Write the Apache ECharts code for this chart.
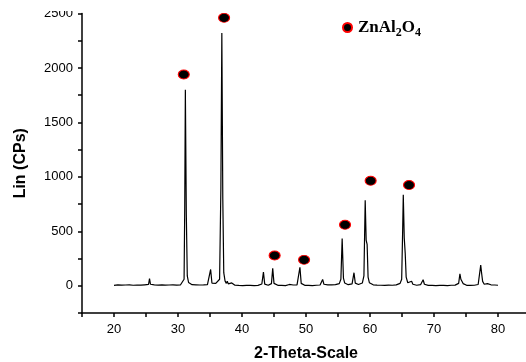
<!DOCTYPE html>
<html><head><meta charset="utf-8">
<script src="https://cdn.jsdelivr.net/npm/echarts@6/dist/echarts.min.js"></script>
<style>html,body{margin:0;padding:0;background:#fff}#c{width:526px;height:362px}</style>
</head><body><div id="c"></div>
<script>
var twoTheta = [20.0,20.3,20.6,20.9,21.2,21.5,21.8,22.1,22.4,22.7,23.0,23.3,23.6,23.9,24.2,24.5,24.8,25.1,25.4,25.55,25.7,26.0,26.3,26.6,26.9,27.2,27.5,27.8,28.0,28.3,28.6,28.9,29.2,29.5,29.8,30.1,30.4,30.7,30.95,31.05,31.15,31.3,31.45,31.65,31.9,32.2,32.5,32.8,33.1,33.4,33.7,34.0,34.3,34.6,34.9,35.1,35.3,35.6,35.9,36.2,36.5,36.7,36.85,37.0,37.15,37.35,37.55,37.7,37.85,38.1,38.4,38.6,38.9,39.2,39.5,39.8,40.1,40.4,40.7,41.0,41.3,41.6,41.9,42.2,42.5,42.8,43.1,43.35,43.55,43.8,44.1,44.4,44.6,44.8,45.0,45.3,45.6,45.9,46.2,46.5,46.8,47.1,47.4,47.7,48.0,48.3,48.6,48.85,49.05,49.25,49.5,49.8,50.1,50.4,50.7,51.0,51.3,51.6,51.9,52.2,52.45,52.6,52.8,53.1,53.4,53.7,54.0,54.3,54.6,54.9,55.2,55.45,55.65,55.85,56.05,56.3,56.6,56.9,57.2,57.5,57.7,57.95,58.2,58.5,58.8,59.05,59.25,59.4,59.55,59.7,59.9,60.2,60.5,60.8,61.1,61.4,61.7,62.0,62.3,62.6,62.9,63.2,63.5,63.8,64.1,64.4,64.7,64.95,65.1,65.2,65.35,65.5,65.65,65.9,66.2,66.5,66.7,67.0,67.3,67.6,67.9,68.15,68.3,68.5,68.8,69.1,69.4,69.7,70.0,70.3,70.6,70.9,71.2,71.5,71.8,72.1,72.4,72.7,73.0,73.3,73.6,73.85,74.05,74.2,74.35,74.55,74.8,75.1,75.4,75.7,76.0,76.3,76.6,76.9,77.1,77.3,77.45,77.6,77.85,78.1,78.35,78.6,78.9,79.2,79.5,79.8,80.0];
var counts = [4,0,9,3,6,1,7,2,8,0,5,3,7,1,6,4,9,3,12,65,14,4,8,2,6,3,8,22,6,2,7,3,8,1,6,4,9,18,60,700,1800,650,90,30,18,10,6,9,3,7,2,8,4,10,22,150,25,14,22,35,60,900,2320,800,120,45,22,42,18,12,26,9,5,8,3,7,2,6,4,9,3,7,2,8,4,10,16,125,15,9,5,11,20,160,22,9,4,8,3,7,2,8,12,4,7,3,9,20,170,22,8,4,9,3,7,2,8,5,10,7,15,58,14,6,9,3,8,4,10,14,20,60,435,70,25,14,10,12,18,120,24,14,12,16,25,90,785,420,380,80,28,15,9,12,6,10,5,9,4,8,6,11,5,10,8,14,22,60,500,835,440,300,80,28,14,42,14,8,5,9,10,22,55,14,8,4,8,3,7,2,8,4,9,3,7,2,8,5,9,6,10,22,110,60,70,20,8,4,9,3,7,5,10,12,30,190,110,40,14,8,20,6,9,3,7,2,5];
var markerTheta = [30.9, 37.2, 45.1, 49.7, 56.1, 60.1, 66.1];
var markerCounts = [1940, 2460, 278, 238, 560, 964, 925];
var xTickLabels = [20, 30, 40, 50, 60, 70, 80];
var yTickLabels = [0, 500, 1000, 1500, 2000, 2500];
var phaseName = 'ZnAl2O4';

var lineData = twoTheta.map(function (t, i) { return [t, counts[i]]; });
var markData = markerTheta.map(function (t, i) { return [t, markerCounts[i]]; });
var ellipse = 'path://M0,1A1,1 0 1,1 2,1A1,1 0 1,1 0,1z';

var chart = echarts.init(document.getElementById('c'));
chart.setOption({
  animation: false,
  backgroundColor: '#fff',
  grid: { left: 82, top: 13.5, width: 448, height: 299.5, containLabel: false, outerBoundsMode: 'none' },
  xAxis: {
    type: 'value', min: 15, max: 85, interval: 5,
    name: '2-Theta-Scale', nameLocation: 'middle', nameGap: 33,
    nameTextStyle: { fontFamily: 'Liberation Sans', fontWeight: 'bold', fontSize: 16, color: '#000' },
    axisLine: { onZero: false, lineStyle: { color: '#000', width: 1.5 } },
    axisTick: { inside: false, length: 4, lineStyle: { color: '#000', width: 1.5 } },
    axisLabel: { margin: 10, fontFamily: 'Liberation Sans', fontSize: 13, color: '#000',
      formatter: function (v) { return xTickLabels.indexOf(v) >= 0 ? String(v) : ''; } },
    splitLine: { show: false }
  },
  yAxis: {
    type: 'value', min: -250, max: 2500, interval: 250,
    name: 'Lin (CPs)', nameLocation: 'middle', nameGap: 53, nameRotate: 90,
    nameTextStyle: { fontFamily: 'Liberation Sans', fontWeight: 'bold', fontSize: 16, color: '#000' },
    axisLine: { onZero: false, lineStyle: { color: '#000', width: 1.5 } },
    axisTick: { inside: false, length: 4, lineStyle: { color: '#000', width: 1.5 } },
    axisLabel: { margin: 9, fontFamily: 'Liberation Sans', fontSize: 13, color: '#000',
      formatter: function (v) { return yTickLabels.indexOf(v) >= 0 ? String(v) : ''; } },
    splitLine: { show: false }
  },
  legend: {
    data: [{ name: phaseName, icon: ellipse, itemStyle: { opacity: 1 } }],
    left: 337, top: 14, itemWidth: 11, itemHeight: 9, itemGap: 6,
    formatter: function () { return 'ZnAl{s|2}O{s|4}'; },
    textStyle: { fontFamily: 'Liberation Serif', fontWeight: 'bold', fontSize: 17, color: '#000',
      rich: { s: { fontFamily: 'Liberation Serif', fontWeight: 'bold', fontSize: 12, color: '#000', padding: [10, 0, 0, 0] } } }
  },
  graphic: [{ type: 'rect', shape: { x: 0, y: 0, width: 78, height: 11 }, style: { fill: '#fff' }, z: 100 }],
  series: [
    { type: 'line', data: lineData, showSymbol: false, symbol: 'none',
      lineStyle: { color: '#000', width: 1.2 }, z: 2 },
    { type: 'scatter', name: phaseName, data: markData, symbol: ellipse, symbolSize: [11, 9],
      itemStyle: { color: '#000', borderColor: '#ff0000', borderWidth: 1, opacity: 1 }, z: 3 }
  ]
});
</script></body></html>
